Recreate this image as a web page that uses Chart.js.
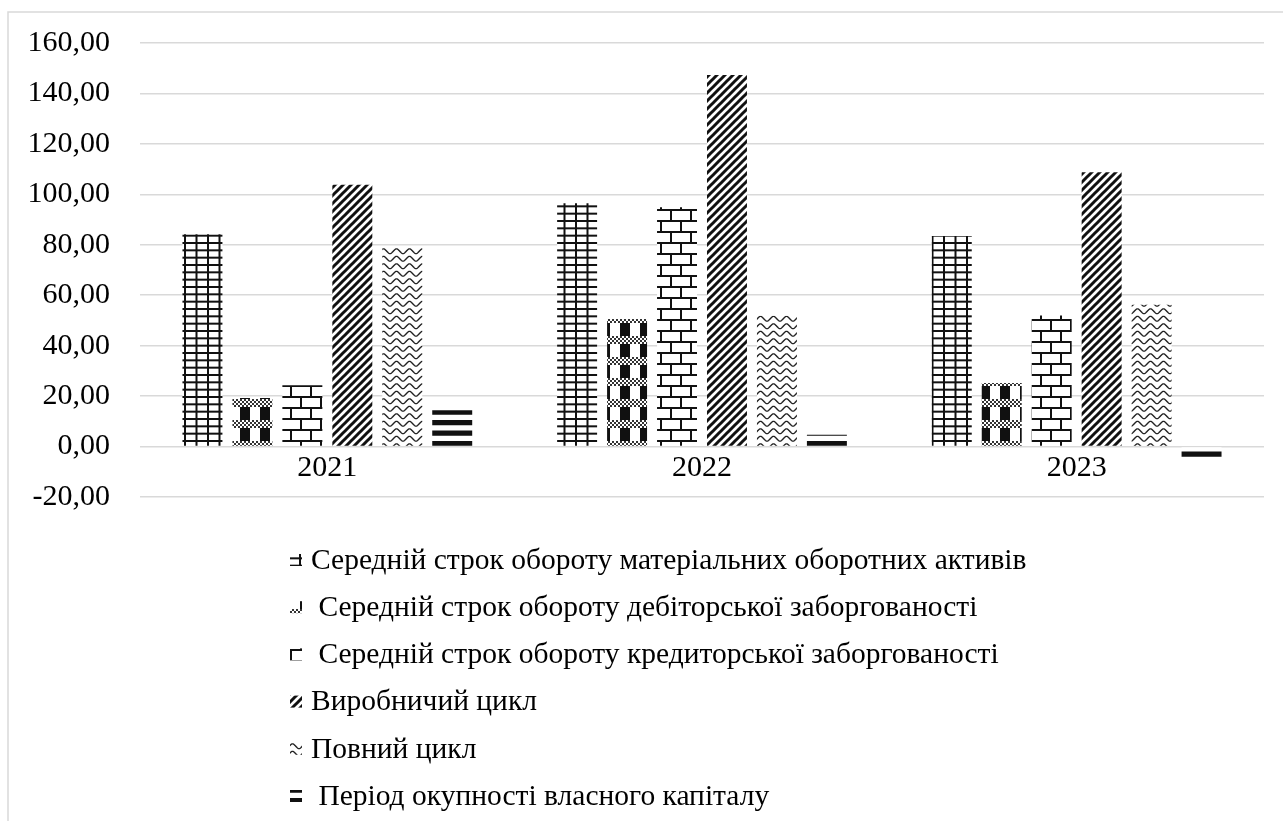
<!DOCTYPE html>
<html>
<head>
<meta charset="utf-8">
<script src="https://cdn.jsdelivr.net/npm/chart.js@4/dist/chart.umd.min.js"></script>
<style>
  html, body { margin: 0; padding: 0; background: #fff; }
  #wrap { position: relative; width: 1283px; height: 821px; }
</style>
</head>
<body>
<div id="wrap"><canvas id="chart" width="1283" height="821"></canvas></div>
<script>
// Categories (years)
const years = ['2021', '2022', '2023'];

// Series names
const seriesNames = [
  'Середній строк обороту матеріальних оборотних активів',
  ' Середній строк обороту дебіторської заборгованості',
  ' Середній строк обороту кредиторської заборгованості',
  'Виробничий цикл',
  'Повний цикл',
  ' Період окупності власного капіталу'
];

// Series values, days
const materialTurnover    = [84.2, 96.5, 83.5];
const receivablesTurnover = [19.3, 50.6, 25.2];
const payablesTurnover    = [24.3, 94.9, 52.0];
const productionCycle     = [103.8, 147.3, 108.8];
const fullCycle           = [79.1, 51.9, 56.2];
const equityPayback       = [14.4, 4.7, -4.8];

// Value axis ticks
const yTicks = [-20, 0, 20, 40, 60, 80, 100, 120, 140, 160];

const FONT = "'Liberation Serif', 'Times New Roman', serif";
const INK = '#111';

// ---- monochrome fill patterns ----
function makeTile(w, h, draw) {
  const c = document.createElement('canvas');
  c.width = w; c.height = h;
  const g = c.getContext('2d');
  g.fillStyle = '#fff';
  g.fillRect(0, 0, w, h);
  draw(g, w, h);
  return c;
}
const ctxMain = document.getElementById('chart').getContext('2d');
const pat = t => ctxMain.createPattern(t, 'repeat');

// large grid
const gridPattern = pat(makeTile(23, 22, (g, w, h) => {
  g.fillStyle = INK;
  [0, 11.5].forEach(x => g.fillRect(x, 0, 2, h));
  [0, 22 / 3, 44 / 3].forEach(y => g.fillRect(0, y, w, 2));
}));

// checker bands with solid blocks
const checkPattern = pat(makeTile(20, 21, (g, w, h) => {
  g.fillStyle = INK;
  g.fillRect(0, 8, 10, 13);
  g.fillStyle = '#333';
  for (let y = 0; y < 8; y += 2) {
    for (let x = 0; x < w; x += 2) {
      if (((x + y) / 2) % 2 === 0) g.fillRect(x, y, 2, 2);
    }
  }
}));

// brick
const brickPattern = pat(makeTile(20, 22, (g, w, h) => {
  g.fillStyle = INK;
  g.fillRect(0, 0, w, 2);
  g.fillRect(0, 11, w, 2);
  g.fillRect(0, 0, 2, 11);
  g.fillRect(10, 11, 2, 11);
}));

// wide upward diagonal
const diagPattern = pat(makeTile(8, 8, (g) => {
  g.strokeStyle = INK;
  g.lineWidth = 3;
  g.beginPath();
  g.moveTo(-2, 10); g.lineTo(10, -2);
  g.moveTo(-6, 6); g.lineTo(6, -6);
  g.moveTo(2, 14); g.lineTo(14, 2);
  g.stroke();
}));

// wave
const wavePattern = pat(makeTile(13, 15, (g, w) => {
  g.strokeStyle = '#222';
  g.lineWidth = 1.4;
  [3.75, 11.25].forEach(y0 => {
    g.beginPath();
    for (let x = -1; x <= w + 1; x += 0.5) {
      const y = y0 + 2.4 * Math.cos(2 * Math.PI * x / w);
      if (x === -1) g.moveTo(x, y); else g.lineTo(x, y);
    }
    g.stroke();
  });
}));

// wide horizontal lines
const hlinePattern = pat(makeTile(4, 21, (g, w) => {
  g.fillStyle = INK;
  g.fillRect(0, 0, w, 5.25);
  g.fillRect(0, 10.5, w, 5.25);
}));

const seriesValues = [materialTurnover, receivablesTurnover, payablesTurnover, productionCycle, fullCycle, equityPayback];
const seriesFills = [gridPattern, checkPattern, brickPattern, diagPattern, wavePattern, hlinePattern];

// outer frame of the chart
const framePlugin = {
  id: 'frame',
  beforeDraw(chart) {
    const c = chart.ctx;
    c.save();
    c.strokeStyle = '#d9d9d9';
    c.lineWidth = 1.5;
    c.strokeRect(8, 12, 2000, 2000);
    c.restore();
  }
};

// vertical list legend under the plot
const listLegend = {
  id: 'listLegend',
  afterDraw(chart) {
    const c = chart.ctx;
    const x0 = 290, y0 = 561, step = 47.2;
    c.save();
    c.font = '29.5px ' + FONT;
    c.textBaseline = 'middle';
    chart.data.datasets.forEach((ds, i) => {
      const y = y0 + i * step;
      c.fillStyle = ds.backgroundColor;
      c.fillRect(x0, y - 7, 12, 12);
      c.fillStyle = '#000';
      c.fillText(ds.label, x0 + 21, y);
    });
    c.restore();
  }
};

new Chart(ctxMain, {
  type: 'bar',
  data: {
    labels: years,
    datasets: seriesNames.map((name, i) => ({
      label: name,
      data: seriesValues[i],
      backgroundColor: seriesFills[i],
      borderWidth: 0,
      categoryPercentage: 0.8,
      barPercentage: 0.8
    }))
  },
  options: {
    responsive: false,
    animation: false,
    devicePixelRatio: 1,
    layout: { padding: { left: 0, right: 19, top: 43, bottom: 324 } },
    plugins: { legend: { display: false }, tooltip: { enabled: false } },
    scales: {
      x: {
        position: { y: 0 },
        grid: { display: false, drawTicks: false },
        border: { display: false },
        ticks: { font: { family: FONT, size: 30 }, color: '#000', padding: 4 }
      },
      y: {
        min: -20,
        max: 160,
        afterBuildTicks: s => { s.ticks = yTicks.map(v => ({ value: v })); },
        afterFit: s => { s.width = 140; },
        grid: { color: '#d9d9d9', lineWidth: 1.5, drawTicks: true, tickLength: 30, tickColor: 'rgba(0,0,0,0)' },
        border: { display: false },
        ticks: {
          font: { family: FONT, size: 30 },
          color: '#000',
          padding: 0,
          callback: v => v.toFixed(2).replace('.', ',')
        }
      }
    }
  },
  plugins: [framePlugin, listLegend]
});
</script>
</body>
</html>
